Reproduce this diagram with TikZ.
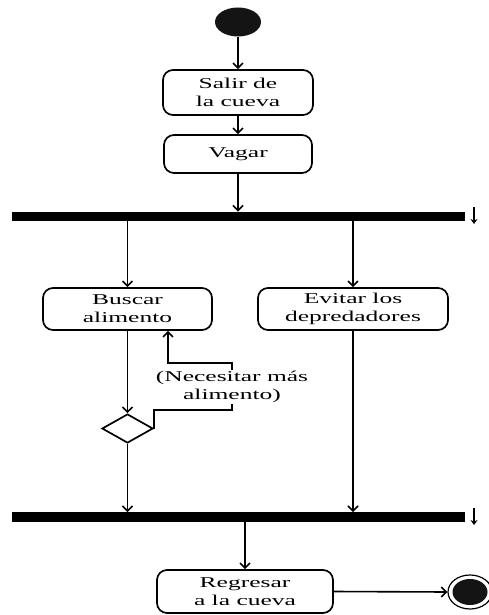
\documentclass[tikz,border=0pt]{standalone}
\usepackage{fontspec}
\setmainfont{Liberation Serif}[FakeStretch=1.7]
\usetikzlibrary{arrows.meta,shapes.geometric}

\begin{document}
\begin{tikzpicture}[x=1pt,y=-1pt,
  act/.style={draw, rounded corners=10pt, line width=1.7pt, align=center,
    inner sep=0pt, font=\fontsize{15}{18}\selectfont},
  syncbar/.style={fill=black, inner sep=0pt, minimum width=453pt, minimum height=9.5pt},
  arr/.style={line width=1.6pt, -{Straight Barb[length=5pt,width=10pt]}},
  tick/.style={line width=1.6pt, -{Stealth[length=5pt,width=7pt]}},
  plain/.style={line width=1.6pt}]
  \useasboundingbox (0,0) rectangle (489,615);
  \fill[white] (0,0) rectangle (489,615);

  % initial state
  \node[ellipse, fill=black!92, inner sep=0pt, minimum width=46pt, minimum height=29pt] (start) at (238,22) {};

  % activities
  \node[act, minimum width=150pt, minimum height=45pt] (salir) at (238,92.5) {Salir de\\la cueva};
  \node[act, minimum width=148pt, minimum height=38pt] (vagar) at (238,154) {Vagar};

  % fork bar
  \node[syncbar] (fork) at (238.5,216.5) {};
  \coordinate (forkA) at (474,207);
  \coordinate (forkB) at (474,224);

  \node[act, minimum width=169pt, minimum height=42pt] (buscar) at (127.5,309) {Buscar\\alimento};
  \node[act, minimum width=190pt, minimum height=42pt] (evitar) at (353,309) {Evitar los\\depredadores};

  % decision
  \node[diamond, draw, line width=1.7pt, inner sep=0pt, minimum width=51pt, minimum height=29pt] (dec) at (127.5,428.5) {};
  \node[font=\fontsize{15}{18}\selectfont, align=center, inner sep=1pt] (cond) at (232,387) {(Necesitar más\\alimento)};
  \coordinate (loopLow) at (153,410);
  \coordinate (loopHigh) at (168,363);

  % join bar
  \node[syncbar] (join) at (238.5,517) {};
  \coordinate (joinA) at (474,508);
  \coordinate (joinB) at (474,525);

  \node[act, minimum width=176pt, minimum height=43pt] (regresar) at (245,591.5) {Regresar\\a la cueva};

  % final state
  \node[ellipse, draw, line width=1.2pt, inner sep=0pt, minimum width=44pt, minimum height=34pt] (end) at (470,592) {};
  \node[ellipse, fill=black!92, inner sep=0pt, minimum width=35pt, minimum height=26pt] at (end) {};

  % flows
  \draw[arr] (start) -- (salir);
  \draw[arr] (salir) -- (vagar);
  \draw[arr] (vagar.south) -- (vagar.south |- fork.north);
  \draw[tick] (forkA) -- (forkB);
  \draw[arr] (fork.south -| buscar.north) -- (buscar.north);
  \draw[arr] (fork.south -| evitar.north) -- (evitar.north);
  \draw[arr] (buscar.south) -- (dec.north);
  \draw[plain] (dec.east) -- (dec.east |- loopLow) -| (cond.south);
  \draw[arr] (cond.north) |- (loopHigh) -- (loopHigh |- buscar.south);
  \draw[arr] (dec.south) -- (dec.south |- join.north);
  \draw[arr] (evitar.south) -- (evitar.south |- join.north);
  \draw[tick] (joinA) -- (joinB);
  \draw[arr] (join.south -| regresar.north) -- (regresar.north);
  \draw[arr] (regresar.east) -- (end.west);
\end{tikzpicture}
\end{document}
